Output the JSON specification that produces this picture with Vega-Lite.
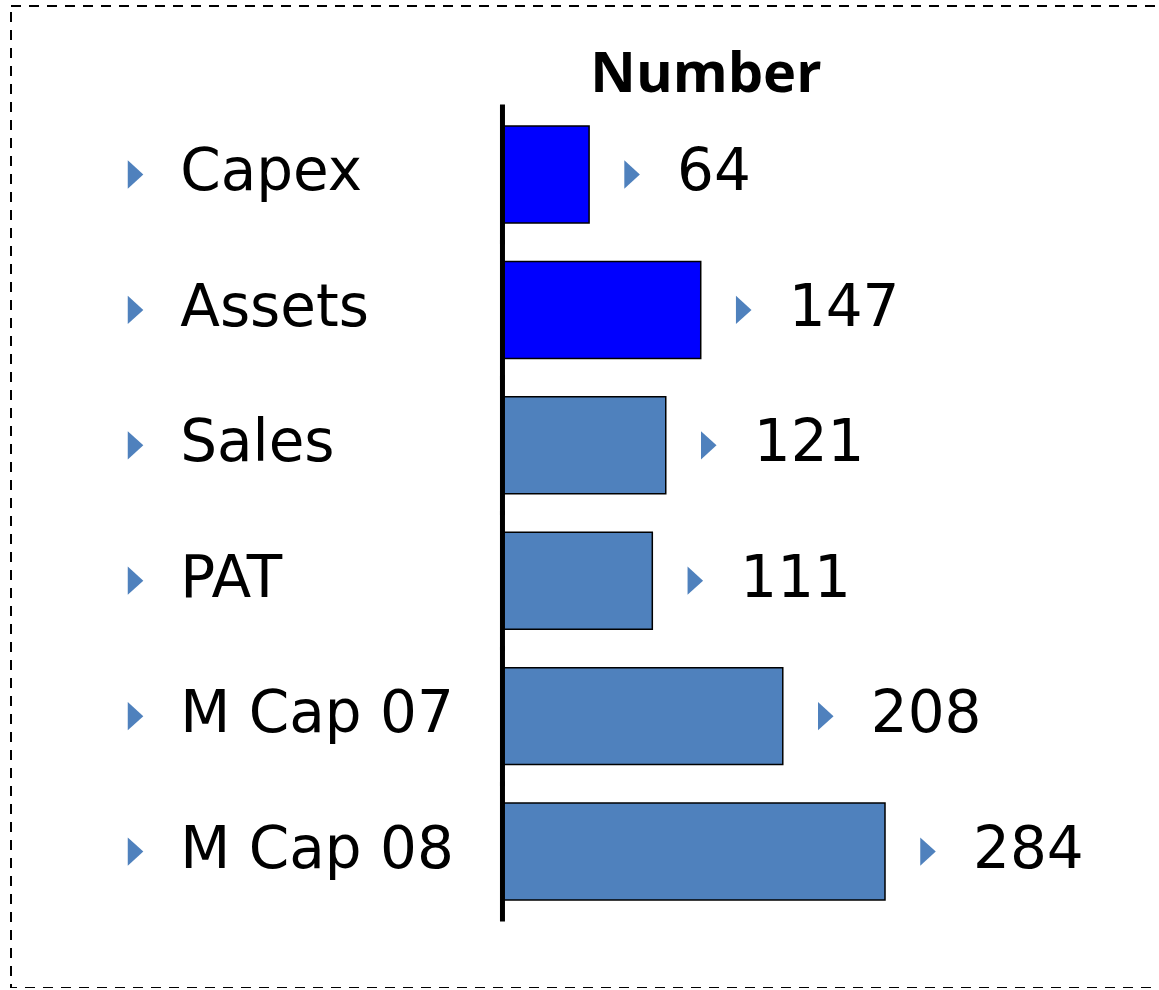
{
  "$schema": "https://vega.github.io/schema/vega-lite/v6.json",
  "autosize": {"type": "none"},
  "padding": {"left": 11, "top": 6, "right": 0, "bottom": 0},
  "width": 1150,
  "height": 982,
  "background": "white",
  "config": {
    "view": {"stroke": "black", "strokeWidth": 2, "strokeDash": [10, 8]}
  },
  "title": {
    "text": "Number",
    "font": "Open Sans",
    "fontSize": 56,
    "fontWeight": "bold",
    "color": "black",
    "anchor": "middle",
    "frame": "group",
    "baseline": "alphabetic",
    "offset": 0,
    "dx": 120,
    "dy": 142
  },
  "data": {
    "values": [
      {"category": "Capex", "value": 64, "group": "highlight"},
      {"category": "Assets", "value": 147, "group": "highlight"},
      {"category": "Sales", "value": 121, "group": "normal"},
      {"category": "PAT", "value": 111, "group": "normal"},
      {"category": "M Cap 07", "value": 208, "group": "normal"},
      {"category": "M Cap 08", "value": 284, "group": "normal"}
    ]
  },
  "encoding": {
    "y": {
      "field": "category",
      "type": "nominal",
      "sort": null,
      "scale": {"paddingInner": 0.284, "paddingOuter": 0.768, "align": 0.577},
      "axis": null
    }
  },
  "layer": [
    {
      "mark": {"type": "bar", "stroke": "black", "strokeWidth": 1.5},
      "encoding": {
        "x": {
          "field": "value",
          "type": "quantitative",
          "scale": {"domain": [-365.8, 489.2], "nice": false, "zero": false},
          "axis": null
        },
        "x2": {"datum": 0},
        "color": {
          "field": "group",
          "type": "nominal",
          "scale": {"domain": ["highlight", "normal"], "range": ["#0000FF", "#4F81BD"]},
          "legend": null
        }
      }
    },
    {
      "mark": {"type": "tick", "orient": "vertical", "size": 140, "thickness": 5, "color": "black", "opacity": 1},
      "encoding": {
        "x": {"datum": -0.4, "type": "quantitative"}
      }
    },
    {
      "mark": {"type": "point", "shape": "M -0.55 -1 L 0.55 0 L -0.55 1 Z", "size": 800, "filled": true, "color": "#4F81BD", "opacity": 1, "strokeWidth": 0},
      "encoding": {
        "x": {"datum": -273.2, "type": "quantitative"}
      }
    },
    {
      "mark": {"type": "text", "align": "left", "baseline": "alphabetic", "dy": 16, "font": "DejaVu Sans", "fontSize": 58, "color": "black"},
      "encoding": {
        "x": {"datum": -240, "type": "quantitative"},
        "text": {"field": "category"}
      }
    },
    {
      "mark": {"type": "point", "shape": "M -0.55 -1 L 0.55 0 L -0.55 1 Z", "size": 800, "filled": true, "color": "#4F81BD", "opacity": 1, "strokeWidth": 0, "xOffset": 43},
      "encoding": {
        "x": {"field": "value", "type": "quantitative"}
      }
    },
    {
      "mark": {"type": "text", "align": "left", "baseline": "alphabetic", "dx": 88, "dy": 16, "font": "DejaVu Sans", "fontSize": 58, "color": "black"},
      "encoding": {
        "x": {"field": "value", "type": "quantitative"},
        "text": {"field": "value", "type": "quantitative"}
      }
    }
  ]
}
